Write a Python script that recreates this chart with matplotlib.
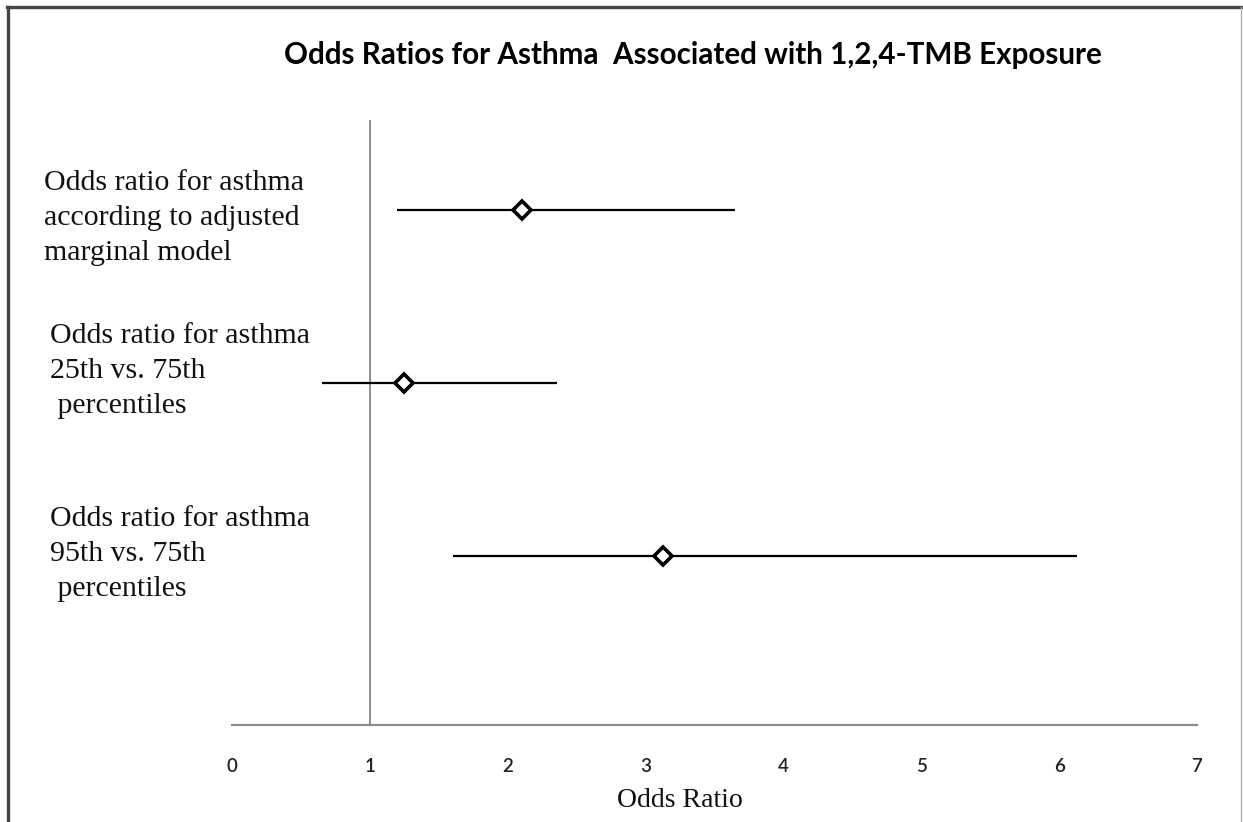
import matplotlib.pyplot as plt
import matplotlib.transforms as mtransforms
from matplotlib.lines import Line2D

labels = [
    "Odds ratio for asthma\naccording to adjusted\nmarginal model",
    "Odds ratio for asthma\n25th vs. 75th\n percentiles",
    "Odds ratio for asthma\n95th vs. 75th\n percentiles",
]
odds = [2.10, 1.25, 3.13]
ci_low = [1.20, 0.65, 1.60]
ci_high = [3.65, 2.36, 6.13]
xticks = [0, 1, 2, 3, 4, 5, 6, 7]

W, H = 1243, 822
fig = plt.figure(figsize=(W / 100, H / 100), dpi=100)
ax = fig.add_axes([232 / W, (H - 725) / H, (1197 - 232) / W, (725 - 120) / H])

ypos = [3, 2, 1]
ax.hlines(ypos, ci_low, ci_high, color='black', lw=1.6, zorder=2)
ax.plot(odds, ypos, 'D', ms=9, mfc='white', mec='black', mew=2.6, zorder=3)

# vertical reference line at OR = 1
ax.axvline(1, color='#8c8c8c', lw=1.4, zorder=1)

ax.set_xlim(0, 7)
ax.set_ylim(0.02, 3.52)
ax.set_xticks(xticks)
ax.set_xticklabels([str(t) for t in xticks], family='Lato', fontweight='semibold',
                   fontsize=13.5, color='#222222')
ax.tick_params(axis='x', length=0, pad=24)
ax.set_yticks([])
for s in ['top', 'right', 'left']:
    ax.spines[s].set_visible(False)
ax.spines['bottom'].set_color('#8c8c8c')
ax.spines['bottom'].set_linewidth(1.6)

# row labels on the left, in the figure margin
trans = mtransforms.blended_transform_factory(fig.transFigure, ax.transData)
label_x = [44, 50, 50]
label_dy = [-0.045, 0.07, 0.01]
for lab, y, lx, dy in zip(labels, ypos, label_x, label_dy):
    ax.text(lx / W, y + dy, lab, transform=trans, ha='left', va='center',
            family='Liberation Serif', fontsize=21.5, linespacing=1.45, color='#111111')

fig.text(680 / W, (H - 800) / H, "Odds Ratio", ha='center', va='center',
         family='Liberation Serif', fontsize=20, color='#111111')
fig.text(693 / W, (H - 55) / H, "Odds Ratios for Asthma  Associated with 1,2,4-TMB Exposure",
         ha='center', va='center', family='Lato', fontweight='bold', fontsize=21.3)

# frame around the chart area
fig.add_artist(Line2D([7 / W, 1], [1 - 7 / H, 1 - 7 / H], transform=fig.transFigure,
                      color='#444444', lw=2.4))
fig.add_artist(Line2D([8 / W, 8 / W], [0, 1 - 7 / H], transform=fig.transFigure,
                      color='#444444', lw=2.4))
fig.add_artist(Line2D([1241 / W, 1241 / W], [0, 1 - 7 / H], transform=fig.transFigure,
                      color='#b0b0b0', lw=1.0))

fig.savefig('out.png', dpi=100)
